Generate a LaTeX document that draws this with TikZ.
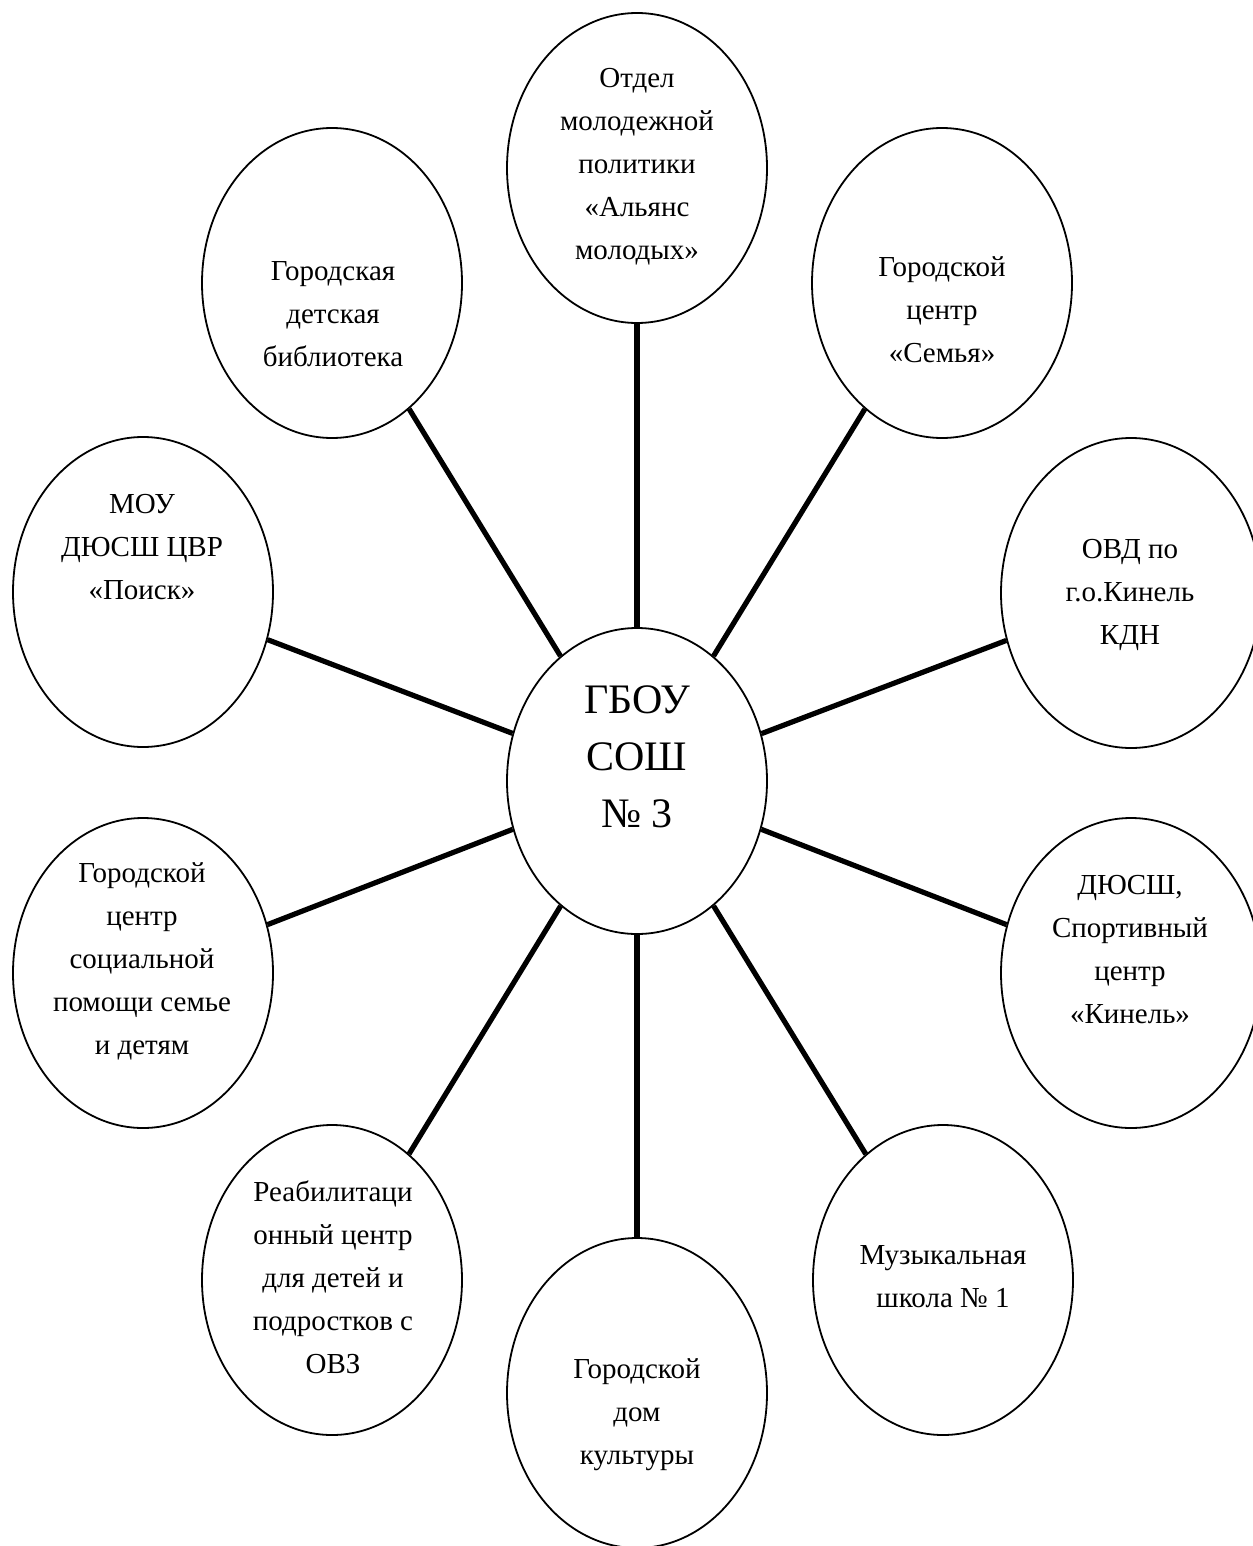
\documentclass[tikz,border=0pt]{standalone}
\usepackage{fontspec}
\setmainfont{Liberation Serif}
\usetikzlibrary{shapes.geometric}
\begin{document}
\begin{tikzpicture}[x=0.5pt,y=-0.5pt,
  circ/.style={draw, line width=0.9pt, ellipse, minimum width=130pt, minimum height=155pt, inner sep=0pt},
  hub/.style={circ, minimum height=153pt},
  lbl/.style={align=center, font=\fontsize{14.5}{21.5}\selectfont, inner sep=0pt},
  hublbl/.style={align=center, font=\fontsize{21}{28.5}\selectfont, inner sep=0pt},
  link/.style={line width=2.6pt}]
\useasboundingbox (0,0) rectangle (1252,1546);
% ellipses
\node[hub]  (c)   at (637,781)  {};
\node[circ] (top) at (637,168)  {};
\node[circ] (lib) at (332,283)  {};
\node[circ] (fam) at (942,283)  {};
\node[circ] (mou) at (143,592)  {};
\node[circ] (ovd) at (1131,593) {};
\node[circ] (soc) at (143,973)  {};
\node[circ] (dus) at (1131,973) {};
\node[circ] (reb) at (332,1280) {};
\node[circ] (mus) at (943,1280) {};
\node[circ] (dom) at (637,1393) {};
% connectors
\foreach \n in {top,lib,fam,mou,ovd,soc,dus,reb,mus,dom}
  \draw[link] (c) -- (\n);
% labels
\node[hublbl] (ct) at (637,757) {ГБОУ\\СОШ\\№ 3};
\node[lbl] (topt) at (637,167) {Отдел\\молодежной\\политики\\«Альянс\\молодых»};
\node[lbl] (libt) at (333,314) {Городская\\детская\\библиотека};
\node[lbl] (famt) at (942,310) {Городской\\центр\\«Семья»};
\node[lbl] (mout) at (142,547) {МОУ\\ДЮСШ ЦВР\\«Поиск»};
\node[lbl] (ovdt) at (1130,595) {ОВД по\\г.о.Кинель\\КДН};
\node[lbl] (soct) at (142,961) {Городской\\центр\\социальной\\помощи семье\\и детям};
\node[lbl] (dust) at (1130,950) {ДЮСШ,\\Спортивный\\центр\\«Кинель»};
\node[lbl] (rebt) at (333,1277) {Реабилитаци\\онный центр\\для детей и\\подростков с\\ОВЗ};
\node[lbl] (must) at (943,1277) {Музыкальная\\школа № 1};
\node[lbl] (domt) at (637,1415) {Городской\\дом\\культуры};
\end{tikzpicture}
\end{document}
